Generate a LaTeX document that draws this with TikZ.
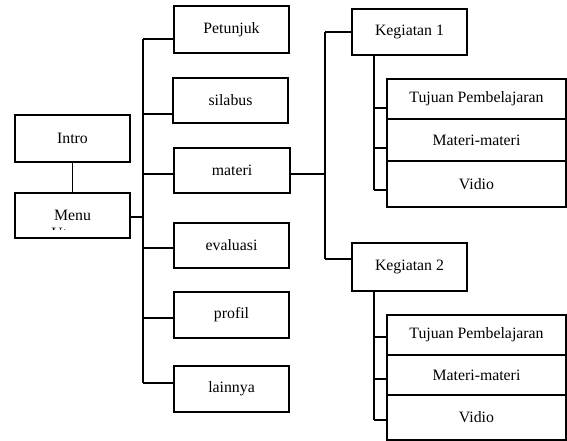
\documentclass[tikz,border=0pt]{standalone}
\usepackage{fontspec}
\setmainfont{Liberation Serif}
\begin{document}
\begin{tikzpicture}[x=1bp,y=-1bp,
  every node/.style={font=\fontsize{15.8bp}{18bp}\selectfont},
  box/.style={draw,line width=1.7bp,rectangle,inner sep=0pt,minimum width=115bp,minimum height=46bp},
  wide/.style={box,minimum width=179bp},
  link/.style={line width=1.6bp}]
\useasboundingbox (0,0) rectangle (567,441);

% left column
\node[box,minimum height=47bp] (intro) at (72.5,138.5) {Intro};
\node[box,minimum height=45bp] (menu) at (72.5,215.5) {};
\begin{scope}
  \clip (16,194) rectangle (129,230);
  \node at (72.5,215.5) {Menu};
  \node at (72.5,233.5) {Utama};
\end{scope}

% main menu items
\node[box,minimum height=47bp] (petunjuk) at (231.5,29.5) {Petunjuk};
\node[box,minimum height=45bp] (silabus) at (230.5,100.5) {silabus};
\node[box,minimum width=116bp,minimum height=45bp] (materi) at (232,170.5) {materi};
\node[box,minimum height=45bp] (evaluasi) at (231.5,245.5) {evaluasi};
\node[box,minimum height=46bp] (profil) at (231.5,315) {profil};
\node[box,minimum height=46bp] (lainnya) at (231.5,389) {lainnya};

% activities
\node[box,minimum height=46bp] (keg1) at (409.5,32) {Kegiatan 1};
\node[box,minimum height=48bp] (keg2) at (409.5,267) {Kegiatan 2};

\node[wide,minimum height=40bp] (tuj1) at (476.5,99) {Tujuan Pembelajaran};
\node[wide,minimum height=42bp] (mat1) at (476.5,140) {Materi-materi};
\node[wide,minimum height=46bp] (vid1) at (476.5,184) {Vidio};

\node[wide,minimum height=40bp] (tuj2) at (476.5,335) {Tujuan Pembelajaran};
\node[wide,minimum height=40bp] (mat2) at (476.5,375) {Materi-materi};
\node[wide,minimum height=45bp] (vid2) at (476.5,417.5) {Vidio};

% joints on the spines
\coordinate (sTop) at (143,39);
\coordinate (sSil) at (143,114);
\coordinate (sMat) at (143,174);
\coordinate (sMenu) at (143,217);
\coordinate (sEva) at (143,248);
\coordinate (sPro) at (143,318);
\coordinate (sBot) at (143,383);
\coordinate (kTop) at (325,32);
\coordinate (kMid) at (325,174);
\coordinate (kBot) at (325,259);
\coordinate (a1) at (374,108);
\coordinate (a2) at (374,148);
\coordinate (a3) at (374,190);
\coordinate (b1) at (374,337);
\coordinate (b2) at (374,379);
\coordinate (b3) at (374,420);

% connectors
\draw[link] (intro.south) -- (menu.north);
\draw[link] (sTop) -- (sBot);
\draw[link] (menu.east |- sMenu) -- (sMenu);
\draw[link] (sTop) -- (sTop -| petunjuk.west);
\draw[link] (sSil) -- ([xshift=2bp]sSil -| silabus.west);
\draw[link] (sMat) -- (sMat -| materi.west);
\draw[link] (sEva) -- (sEva -| evaluasi.west);
\draw[link] (sPro) -- (sPro -| profil.west);
\draw[link] (sBot) -- (sBot -| lainnya.west);

\draw[link] (materi.east |- kMid) -- (kMid);
\draw[link] (kTop) -- (kBot);
\draw[link] (kTop) -- (kTop -| keg1.west);
\draw[link] (kBot) -- (kBot -| keg2.west);

\draw[link] (keg1.south -| a1) -- (a3);
\draw[link] (a1) -- (a1 -| tuj1.west);
\draw[link] (a2) -- (a2 -| mat1.west);
\draw[link] (a3) -- (a3 -| vid1.west);

\draw[link] (keg2.south -| b1) -- (b3);
\draw[link] (b1) -- (b1 -| tuj2.west);
\draw[link] (b2) -- (b2 -| mat2.west);
\draw[link] (b3) -- (b3 -| vid2.west);
\end{tikzpicture}
\end{document}
